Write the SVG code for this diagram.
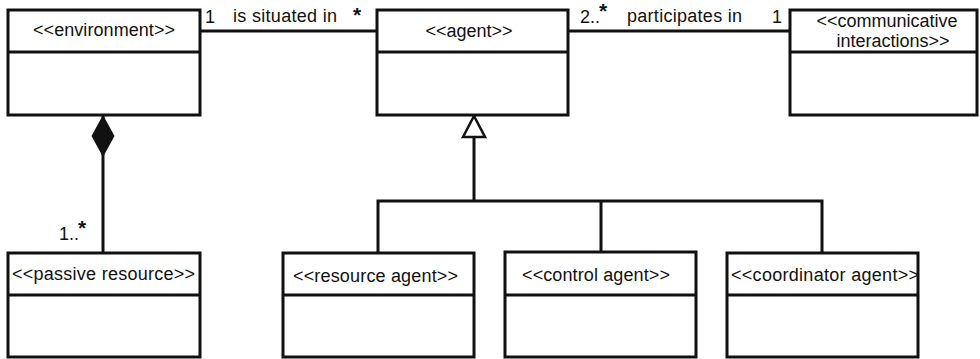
<svg xmlns="http://www.w3.org/2000/svg" width="980" height="359" viewBox="0 0 980 359">
<style>
.box{fill:#fff;stroke:#111;stroke-width:3}
.div{stroke:#111;stroke-width:3}
.t{font-family:"Liberation Sans",Arial,sans-serif;font-size:18px;fill:#111}
.s{font-size:21px;font-weight:bold}
.c{text-anchor:middle}
.ln{fill:none;stroke:#111;stroke-width:3}
</style>
<defs>
<marker id="gen" markerUnits="userSpaceOnUse" viewBox="-2 -2 25 26" refX="21" refY="11" markerWidth="25" markerHeight="26" orient="auto">
<path d="M0,0 L21,11 L0,22 Z" fill="#fff" stroke="#111" stroke-width="2.5"/>
</marker>
<marker id="comp" markerUnits="userSpaceOnUse" viewBox="0 0 42 24" refX="42" refY="12" markerWidth="42" markerHeight="24" orient="auto">
<path d="M0,12 L21,0.5 L42,12 L21,23.5 Z" fill="#111"/>
</marker>
</defs>
<g id="connectors">
<path class="ln" d="M200,31 H377"/>
<path class="ln" d="M568,31 H790"/>
<path class="ln" d="M103,253 V115" marker-end="url(#comp)"/>
<path class="ln" d="M474,200 V116" marker-end="url(#gen)"/>
<path class="ln" d="M378,253 V201 H822 V253"/>
<path class="ln" d="M601,201 V252"/>
<text class="t" x="205" y="23">1</text>
<text class="t" x="233" y="22" textLength="104">is situated in</text>
<text class="t s" x="353" y="22">*</text>
<text class="t" x="580" y="23">2..</text>
<text class="t s" x="599" y="18">*</text>
<text class="t" x="627" y="22" textLength="115">participates in</text>
<text class="t" x="772" y="23">1</text>
<text class="t" x="59" y="240">1..</text>
<text class="t s" x="78" y="235">*</text>
</g>
<g id="environment">
<rect class="box" x="8" y="10" width="192" height="105"/>
<line class="div" x1="8" y1="52" x2="200" y2="52"/>
<text class="t c" x="104" y="36" textLength="142">&lt;&lt;environment&gt;&gt;</text>
</g>
<g id="agent">
<rect class="box" x="377" y="10" width="191" height="105"/>
<line class="div" x1="377" y1="52" x2="568" y2="52"/>
<text class="t c" x="469" y="37">&lt;&lt;agent&gt;&gt;</text>
</g>
<g id="communicative-interactions">
<rect class="box" x="790" y="10" width="187" height="105"/>
<line class="div" x1="790" y1="52" x2="977" y2="52"/>
<text class="t c" x="887" y="27">&lt;&lt;communicative</text>
<text class="t c" x="893" y="47">interactions&gt;&gt;</text>
</g>
<g id="passive-resource">
<rect class="box" x="8" y="253" width="192" height="104"/>
<line class="div" x1="8" y1="295" x2="200" y2="295"/>
<text class="t" x="12" y="280" textLength="183">&lt;&lt;passive resource&gt;&gt;</text>
</g>
<g id="resource-agent">
<rect class="box" x="283" y="253" width="191" height="104"/>
<line class="div" x1="283" y1="295" x2="474" y2="295"/>
<text class="t" x="293" y="282" textLength="165">&lt;&lt;resource agent&gt;&gt;</text>
</g>
<g id="control-agent">
<rect class="box" x="505" y="252" width="191" height="105"/>
<line class="div" x1="505" y1="295" x2="696" y2="295"/>
<text class="t" x="522" y="281" textLength="148">&lt;&lt;control agent&gt;&gt;</text>
</g>
<g id="coordinator-agent">
<rect class="box" x="727" y="253" width="191" height="104"/>
<line class="div" x1="727" y1="295" x2="918" y2="295"/>
<text class="t" x="731" y="281" textLength="188">&lt;&lt;coordinator agent&gt;&gt;</text>
</g>
</svg>
